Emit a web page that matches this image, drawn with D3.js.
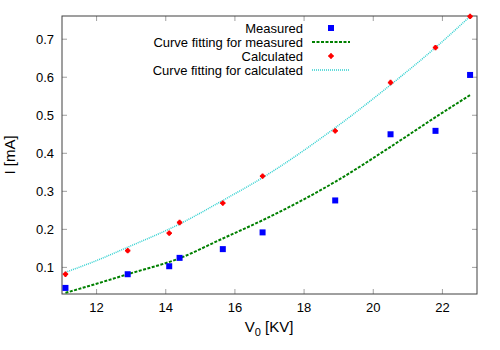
<html>
<head>
  <script src="https://d3js.org/d3.v7.min.js"></script>
  <style>
    body { margin: 0; background: white; }
    text { font-family: "Liberation Sans", Arial, sans-serif; }
  </style>
</head>
<body>
<script>
  // voltage values (KV)
  const voltage = [11.1, 12.9, 14.1, 14.4, 15.65, 16.8, 18.9, 20.5, 21.8, 22.8];
  const measured = [0.046, 0.082, 0.103, 0.125, 0.148, 0.192, 0.276, 0.450, 0.459, 0.606];
  const calculated = [0.082, 0.144, 0.190, 0.218, 0.269, 0.340, 0.459, 0.586, 0.678, 0.760];

  // fitted curves
  const fitX = [11.1, 12.0, 12.9, 14.4, 15.65, 16.8, 18.9, 20.5, 21.8, 22.8];
  const fitMeasured = [0.033, 0.057, 0.082, 0.124, 0.176, 0.224, 0.325, 0.417, 0.495, 0.553];
  const fitCalculated = [0.087, 0.118, 0.153, 0.214, 0.276, 0.336, 0.467, 0.580, 0.678, 0.760];

  const xTicks = [12, 14, 16, 18, 20, 22];
  const yTicks = [0.1, 0.2, 0.3, 0.4, 0.5, 0.6, 0.7];

  const width = 500, height = 350;
  const margin = { top: 16, right: 23, bottom: 56, left: 62 };

  const svg = d3.select("body").append("svg")
    .attr("width", width)
    .attr("height", height);

  const x = d3.scaleLinear().domain([11, 23]).range([margin.left, width - margin.right]);
  const y = d3.scaleLinear().domain([0.03, 0.761]).range([height - margin.bottom, margin.top]);

  const tickColor = "#a0a0a0";
  const frameColor = "#404040";

  // tick marks (inside, mirrored)
  const tg = svg.append("g").attr("stroke", tickColor).attr("stroke-width", 1);
  xTicks.forEach(t => {
    tg.append("line").attr("x1", x(t)).attr("x2", x(t)).attr("y1", y.range()[0]).attr("y2", y.range()[0] - 5);
    tg.append("line").attr("x1", x(t)).attr("x2", x(t)).attr("y1", y.range()[1]).attr("y2", y.range()[1] + 5);
  });
  yTicks.forEach(t => {
    tg.append("line").attr("y1", y(t)).attr("y2", y(t)).attr("x1", x.range()[0]).attr("x2", x.range()[0] + 5);
    tg.append("line").attr("y1", y(t)).attr("y2", y(t)).attr("x1", x.range()[1]).attr("x2", x.range()[1] - 5);
  });

  // frame
  svg.append("rect")
    .attr("x", margin.left).attr("y", margin.top)
    .attr("width", width - margin.left - margin.right)
    .attr("height", height - margin.top - margin.bottom)
    .attr("fill", "none").attr("stroke", frameColor).attr("stroke-width", 1);

  // tick labels
  svg.append("g").selectAll("text").data(xTicks).join("text")
    .attr("x", d => x(d)).attr("y", height - margin.bottom + 18)
    .attr("text-anchor", "middle").attr("font-size", 13).attr("fill", "black")
    .text(d => d);
  svg.append("g").selectAll("text").data(yTicks).join("text")
    .attr("x", margin.left - 8).attr("y", d => y(d) + 4.5)
    .attr("text-anchor", "end").attr("font-size", 13).attr("fill", "black")
    .text(d => d3.format(".1f")(d));

  // axis titles
  const xl = svg.append("text")
    .attr("x", 269).attr("y", 332)
    .attr("text-anchor", "middle").attr("font-size", 15).attr("fill", "black");
  xl.append("tspan").text("V");
  xl.append("tspan").attr("dy", 4).attr("font-size", 11).text("0");
  xl.append("tspan").attr("dy", -4).text(" [KV]");

  svg.append("text")
    .attr("transform", `translate(15, ${(margin.top + height - margin.bottom) / 2}) rotate(-90)`)
    .attr("text-anchor", "middle").attr("font-size", 15).attr("fill", "black")
    .text("I [mA]");

  svg.append("clipPath").attr("id", "clip").append("rect")
    .attr("x", margin.left).attr("y", margin.top - 2)
    .attr("width", width - margin.left - margin.right)
    .attr("height", height - margin.top - margin.bottom + 2);

  const line = d3.line().curve(d3.curveMonotoneX).x(d => x(d[0])).y(d => y(d[1]));

  const plot = svg.append("g").attr("clip-path", "url(#clip)");

  plot.append("path")
    .datum(fitX.map((v, i) => [v, fitCalculated[i]]))
    .attr("d", line).attr("fill", "none")
    .attr("stroke", "#30d0d0").attr("stroke-width", 1.5).attr("stroke-dasharray", "1,1");

  plot.append("path")
    .datum(fitX.map((v, i) => [v, fitMeasured[i]]))
    .attr("d", line).attr("fill", "none")
    .attr("stroke", "#008000").attr("stroke-width", 2).attr("stroke-dasharray", "3,1.5");

  const sq = 6;
  svg.append("g").selectAll("rect").data(voltage.map((v, i) => [v, measured[i]])).join("rect")
    .attr("x", d => x(d[0]) - sq / 2).attr("y", d => y(d[1]) - sq / 2)
    .attr("width", sq).attr("height", sq).attr("fill", "#0000ff");

  // calculated marker: small filled blob with cross arms
  function redMark(g) {
    g.append("circle").attr("r", 2.2).attr("fill", "#ff0000");
    g.append("path").attr("d", d3.symbol().type(d3.symbolCross).size(16)).attr("fill", "#ff0000");
  }
  svg.append("g").selectAll("g").data(voltage.map((v, i) => [v, calculated[i]])).join("g")
    .attr("transform", d => `translate(${x(d[0])},${y(d[1])})`)
    .each(function () { redMark(d3.select(this)); });

  // legend
  const legend = [
    { label: "Measured", type: "square" },
    { label: "Curve fitting for measured", type: "green" },
    { label: "Calculated", type: "cross" },
    { label: "Curve fitting for calculated", type: "cyan" }
  ];
  const lg = svg.append("g");
  legend.forEach((d, i) => {
    const ly = 28 + i * 14;
    lg.append("text").attr("x", 303).attr("y", ly + 4.5)
      .attr("text-anchor", "end").attr("font-size", 13).attr("fill", "black").text(d.label);
    if (d.type === "square") {
      lg.append("rect").attr("x", 331 - sq / 2).attr("y", ly - sq / 2).attr("width", sq).attr("height", sq).attr("fill", "#0000ff");
    } else if (d.type === "cross") {
      redMark(lg.append("g").attr("transform", `translate(331,${ly})`));
    } else if (d.type === "green") {
      lg.append("line").attr("x1", 312).attr("x2", 350).attr("y1", ly).attr("y2", ly)
        .attr("stroke", "#008000").attr("stroke-width", 2).attr("stroke-dasharray", "3,1.5");
    } else {
      lg.append("line").attr("x1", 312).attr("x2", 350).attr("y1", ly).attr("y2", ly)
        .attr("stroke", "#30d0d0").attr("stroke-width", 1.5).attr("stroke-dasharray", "1,1");
    }
  });
</script>
</body>
</html>
